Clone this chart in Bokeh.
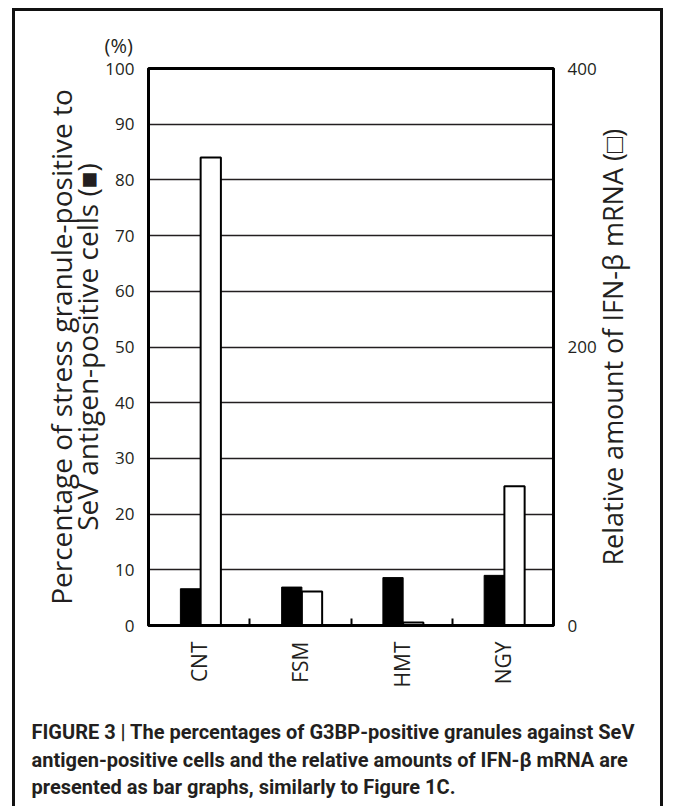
from math import pi
from bokeh.plotting import figure
from bokeh.models import (FactorRange, Range1d, LinearAxis, CategoricalAxis, FixedTicker,
                          ColumnDataSource, Grid, Title, InlineStyleSheet)
from bokeh.transform import dodge
from bokeh.embed import file_html
from bokeh.resources import INLINE

categories = ["CNT", "FSM", "HMT", "NGY"]
stress_granule_pct = [6.6, 6.9, 8.6, 9.0]      # left axis (%)
ifn_beta_mrna = [336, 24.5, 2.2, 100]          # right axis (relative amount)
left_ticks = list(range(0, 101, 10))
right_ticks = [0, 200, 400]
boundary_ticks = [1, 2, 3]                     # synthetic positions between categories

left_title = "Percentage of stress granule-positive to\nSeV antigen-positive cells (\u25a0)"
right_title = "Relative amount of IFN-\u03b2 mRNA (\u25a1)"
right_title_anchor = 43                        # where the rotated right title starts (ifn scale)
caption = ("FIGURE 3 | The percentages of G3BP-positive granules against SeV\n"
           "antigen-positive cells and the relative amounts of IFN-\u03b2 mRNA are\n"
           "presented as bar graphs, similarly to Figure 1C.")

INK = "#231f20"
FONT = "Open Sans"

src = ColumnDataSource(dict(cat=categories, sg=stress_granule_pct, ifn=ifn_beta_mrna))

p = figure(width=673, height=806, output_backend="svg", toolbar_location=None,
           x_range=FactorRange(*categories, range_padding=0), y_range=Range1d(0, 100),
           min_border_left=148, min_border_right=120, min_border_top=68, min_border_bottom=181,
           x_axis_location=None, y_axis_location=None)
p.extra_y_ranges = {"ifn": Range1d(0, 400)}
p.grid.visible = False
p.outline_line_color = "black"
p.outline_line_width = 3
p.background_fill_color = "white"
p.border_fill_color = "white"

# outer figure frame (decoration, open at the bottom)
p.stylesheets = [InlineStyleSheet(css="""
:host { position: relative; }
:host::after { content: ""; position: absolute; left: 12px; top: 8px; width: 651px; height: 798px;
  box-sizing: border-box; border: 3px solid #111; border-bottom: none; pointer-events: none; z-index: 10; }
""")]

grid = Grid(dimension=1, ticker=FixedTicker(ticks=left_ticks[1:-1]),
            grid_line_color=INK, grid_line_width=1.5)
p.add_layout(grid)

p.vbar(x=dodge("cat", -0.085, range=p.x_range), top="sg", width=0.2, source=src,
       fill_color="black", line_color="black", line_width=1)
p.vbar(x=dodge("cat", 0.115, range=p.x_range), top="ifn", width=0.2, source=src,
       y_range_name="ifn", fill_color="white", line_color="black", line_width=2)

tick_style = dict(major_label_text_font=FONT, major_label_text_font_size="17px",
                  major_label_text_color=INK, major_tick_line_color=None,
                  minor_tick_line_color=None, axis_line_color="black", axis_line_width=3)

ya = LinearAxis(ticker=FixedTicker(ticks=left_ticks), major_label_standoff=8,
                axis_label=left_title,
                axis_label_text_font=FONT, axis_label_text_font_size="28px",
                axis_label_text_font_style="normal", axis_label_text_color=INK,
                axis_label_text_line_height=0.68,
                axis_label_standoff=-4, **tick_style)
p.add_layout(ya, "left")

yr = LinearAxis(y_range_name="ifn", ticker=FixedTicker(ticks=right_ticks),
                major_label_standoff=8, **tick_style)
p.add_layout(yr, "right")

# right-hand title, drawn as a single rotated label reading bottom-to-top
yt = LinearAxis(y_range_name="ifn", ticker=FixedTicker(ticks=[right_title_anchor]),
                major_label_overrides={right_title_anchor: right_title},
                major_label_orientation=pi / 2, major_label_standoff=7,
                major_label_text_font=FONT, major_label_text_font_size="27px",
                major_label_text_color=INK, major_tick_line_color=None,
                minor_tick_line_color=None, axis_line_color=None)
p.add_layout(yt, "right")

xt = LinearAxis(ticker=FixedTicker(ticks=boundary_ticks),
                major_tick_in=7, major_tick_out=0, major_tick_line_color="black",
                major_tick_line_width=2, minor_tick_line_color=None,
                major_label_text_font_size="1px", major_label_standoff=0,
                major_label_overrides={1: "", 2: "", 3: ""},
                axis_line_color="black", axis_line_width=3)
p.add_layout(xt, "below")

xc = CategoricalAxis(major_label_orientation=pi / 2, major_label_standoff=10,
                     major_label_text_font=FONT, major_label_text_font_size="21px",
                     major_label_text_color=INK, major_tick_line_color=None,
                     minor_tick_line_color=None, axis_line_color=None)
p.add_layout(xc, "below")

p.title.text = "(%)"
p.title.align = "left"
p.title.offset = -44
p.title.standoff = 19
p.title.text_font = FONT
p.title.text_font_size = "20px"
p.title.text_font_style = "normal"
p.title.text_color = INK

# small blank spacer between the category labels and the caption
spacer = Title(text="\u00a0", standoff=22, text_font_size="1px", text_color="white")
p.add_layout(spacer, "below")

cap = Title(text=caption, align="left", offset=-117, standoff=9, vertical_align="top",
            text_font="Roboto", text_font_style="bold",
            text_font_size="20px", text_color=INK, text_line_height=1.15)
p.add_layout(cap, "below")

open("out.html", "w").write(file_html(p, INLINE))
